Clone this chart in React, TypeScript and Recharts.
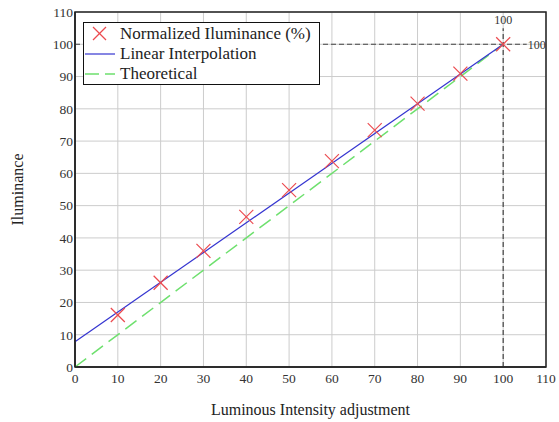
import React from 'react';
import {
  ComposedChart, Line, Scatter, XAxis, YAxis, CartesianGrid, ReferenceLine, ReferenceArea, Legend,
} from 'recharts';

const xTicks = [0, 10, 20, 30, 40, 50, 60, 70, 80, 90, 100, 110];
const yTicks = [0, 10, 20, 30, 40, 50, 60, 70, 80, 90, 100, 110];

const intensity = [10, 20, 30, 40, 50, 60, 70, 80, 90, 100];
const normalized = [16.1, 26.1, 36.0, 46.5, 54.8, 63.8, 73.4, 81.6, 90.9, 100];

const linX = [0, 100];
const linY = [7.8, 100];

const theoX = [0, 100];
const theoY = [0, 100];

const scatterData = intensity.map((x, i) => ({ x, y: normalized[i] }));
const linData = linX.map((x, i) => ({ x, y: linY[i] }));
const theoData = theoX.map((x, i) => ({ x, y: theoY[i] }));

const FONT = 'Liberation Serif, DejaVu Serif, serif';
const RED = '#ec4a4f';
const BLUE = '#3434d0';
const GREEN = '#6ee06e';

const Cross = (props: any) => {
  const { cx, cy } = props;
  if (cx == null || cy == null) return null;
  const r = 7;
  return (
    <g stroke={RED} strokeWidth={1.2}>
      <line x1={cx - r} y1={cy - r} x2={cx + r} y2={cy + r} />
      <line x1={cx - r} y1={cy + r} x2={cx + r} y2={cy - r} />
    </g>
  );
};

const LegendBox = () => (
  <div
    style={{
      border: '1.5px solid #111',
      background: '#fff',
      width: 237,
      height: 63,
      fontFamily: FONT,
      fontSize: 17,
      color: '#222',
      boxSizing: 'border-box',
      paddingTop: 1,
    }}
  >
    {[
      { label: 'Normalized Iluminance (%)', kind: 'x' },
      { label: 'Linear Interpolation', kind: 'line' },
      { label: 'Theoretical', kind: 'dash' },
    ].map((it) => (
      <div key={it.label} style={{ display: 'flex', alignItems: 'center', height: 20 }}>
        <svg width={34} height={18} style={{ marginRight: 2 }}>
          {it.kind === 'x' && (
            <g stroke={RED} strokeWidth={1.2}>
              <line x1={9} y1={2} x2={22} y2={15} />
              <line x1={9} y1={15} x2={22} y2={2} />
            </g>
          )}
          {it.kind === 'line' && <line x1={1} y1={9} x2={31} y2={9} stroke={BLUE} strokeWidth={1.2} />}
          {it.kind === 'dash' && (
            <line x1={1} y1={9} x2={31} y2={9} stroke={GREEN} strokeWidth={1.5} strokeDasharray="14 6" />
          )}
        </svg>
        <span>{it.label}</span>
      </div>
    ))}
  </div>
);

const tickStyle = { fontFamily: FONT, fontSize: 13.5, fill: '#333' };

export default function App() {
  return (
    <div style={{ position: 'absolute', left: 0, top: 0, background: '#fff', fontFamily: FONT }}>
      <ComposedChart
        width={559}
        height={422}
        margin={{ top: 12, right: 13, bottom: 25, left: 25 }}
        style={{ fontFamily: FONT }}
      >
        <CartesianGrid stroke="#cccccc" strokeWidth={1} />
        <XAxis
          dataKey="x"
          type="number"
          domain={[0, 110]}
          ticks={xTicks}
          interval={0}
          height={30}
          axisLine={{ stroke: '#222', strokeWidth: 1.5 }}
          tickLine={false}
          tickSize={2}
          tickMargin={4}
          tick={tickStyle}
          label={{
            value: 'Luminous Intensity adjustment',
            position: 'insideBottom',
            offset: -18,
            fontFamily: FONT,
            fontSize: 16,
            fill: '#222',
          }}
        />
        <YAxis
          dataKey="y"
          type="number"
          domain={[0, 110]}
          ticks={yTicks}
          interval={0}
          width={50}
          axisLine={{ stroke: '#222', strokeWidth: 1.5 }}
          tickLine={false}
          tickSize={1}
          tickMargin={1}
          tick={tickStyle}
          label={{
            value: 'Iluminance',
            angle: -90,
            position: 'insideLeft',
            offset: -8,
            fontFamily: FONT,
            fontSize: 16,
            fill: '#222',
            textAnchor: 'middle',
          }}
        />
        <ReferenceArea x1={0} x2={110} y1={0} y2={110} fill="none" stroke="#222" strokeWidth={1.5} />
        <ReferenceLine
          segment={[{ x: 0, y: 100 }, { x: 105.5, y: 100 }]}
          stroke="#444"
          strokeDasharray="5 3"
          strokeWidth={1.2}
          label={{
            value: '100',
            position: 'right',
            offset: 1,
            fontFamily: FONT,
            fontSize: 12,
            fill: '#333',
          }}
        />
        <ReferenceLine
          segment={[{ x: 100, y: 0 }, { x: 100, y: 105 }]}
          stroke="#444"
          strokeDasharray="5 3"
          strokeWidth={1.2}
          label={{
            value: '100',
            position: 'top',
            offset: 4,
            fontFamily: FONT,
            fontSize: 12,
            fill: '#333',
          }}
        />
        <Line
          data={theoData}
          dataKey="y"
          type="linear"
          stroke={GREEN}
          strokeWidth={1.5}
          strokeDasharray="14 7"
          dot={false}
          activeDot={false}
          isAnimationActive={false}
        />
        <Line
          data={linData}
          dataKey="y"
          type="linear"
          stroke={BLUE}
          strokeWidth={1.2}
          dot={false}
          activeDot={false}
          isAnimationActive={false}
        />
        <Scatter data={scatterData} dataKey="y" shape={<Cross />} isAnimationActive={false} />
        <Legend
          layout="vertical"
          align="center"
          verticalAlign="middle"
          wrapperStyle={{ top: 22, left: 83, width: 237 }}
          content={() => <LegendBox />}
        />
      </ComposedChart>
    </div>
  );
}
